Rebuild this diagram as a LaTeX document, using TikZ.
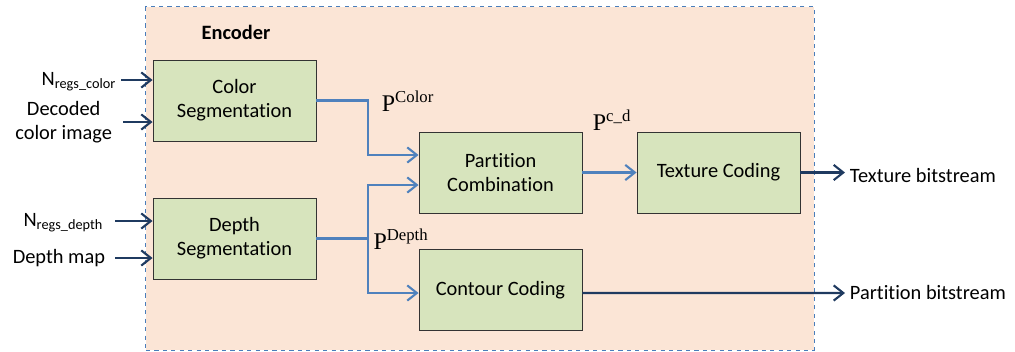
\documentclass[tikz,border=0pt]{standalone}
\usepackage{fontspec}
\setmainfont[Ligatures=NoCommon]{Carlito}
\newfontfamily\plabelfont{Liberation Serif}
\usetikzlibrary{arrows.meta}

\definecolor{encfill}{HTML}{FBE5D6}
\definecolor{encline}{HTML}{4A7EBB}
\definecolor{boxfill}{HTML}{D7E4BD}
\definecolor{flowblue}{HTML}{4F81BD}
\definecolor{flowdark}{HTML}{1F3A60}

\tikzset{
  block/.style={draw=black!80, line width=0.6pt, fill=boxfill, align=center,
    minimum width=4.075cm, minimum height=2.025cm, inner sep=0pt},
  flow/.style={draw=flowblue, line width=1.5pt, -{Straight Barb[length=2.4mm,width=3.8mm]}},
  outflow/.style={draw=flowdark, line width=1.5pt, -{Straight Barb[length=2.4mm,width=3.8mm]}},
  plabel/.style={font=\fontsize{17}{19}\selectfont\plabelfont},
  txt/.style={font=\fontsize{14.5}{17}\selectfont}
}

\begin{document}
\begin{tikzpicture}[x=0.025cm, y=-0.025cm, txt]
  \useasboundingbox (0,0) rectangle (1015,351);
  % Encoder frame
  \node[draw=encline, dashed, line width=0.7pt, fill=encfill, inner sep=0pt,
    minimum width=16.7cm, minimum height=8.575cm] (encoder) at (480,178.5) {};
  \node[font=\fontsize{14.5}{17}\selectfont\bfseries] (enclabel) at (236,32) {Encoder};

  % Processing blocks
  \node[block] (colorseg) at (234.5,100.5) {Color\\Segmentation};
  \node[block] (depthseg) at (234.5,238.5) {Depth\\Segmentation};
  \node[block] (partcomb) at (500.5,172.5) {Partition\\Combination};
  \node[block] (texcod) at (718.5,172.5) {Texture Coding};
  \node[block] (contcod) at (500.5,290) {Contour Coding};

  % Inputs
  \node[anchor=east] (ncolor) at (121,82) {N\textsubscript{regs\_color}};
  \node[anchor=east, align=center] (decimg) at (117,122) {Decoded\\color image};
  \node[anchor=east] (ndepth) at (108,223) {N\textsubscript{regs\_depth}};
  \node[anchor=east] (dmap) at (110,258) {Depth map};
  \draw[outflow] (ncolor.east |- 0,80) -- (colorseg.west |- 0,80);
  \draw[outflow] (123,122) -- (colorseg.west |- 0,122);
  \draw[outflow] (115,221) -- (depthseg.west |- 0,221);
  \draw[outflow] (115,258) -- (depthseg.west |- 0,258);

  % Partitions
  \coordinate (cjoint) at (368,100.5);
  \coordinate (djoint) at (368,238.5);
  \draw[flow] (colorseg.east) -- (cjoint) |- ([yshift=0.4375cm]partcomb.west);
  \draw[flow] (depthseg.east) -- (djoint) |- ([yshift=-0.3125cm]partcomb.west);
  \draw[flow] (djoint) |- ([yshift=-0.075cm]contcod.west);
  \draw[flow] (partcomb.east) -- (texcod.west);
  \node[plabel] (pcolor) at (408,101) {P\textsuperscript{Color}};
  \node[plabel] (pcd) at (612,120) {P\textsuperscript{c\_d}};
  \node[plabel] (pdepth) at (401,239) {P\textsuperscript{Depth}};

  % Outputs
  \node[anchor=west] (texbits) at (845,175) {Texture bitstream};
  \node[anchor=west] (partbits) at (845,292) {Partition bitstream};
  \draw[outflow] (texcod.east) -- (texbits.west |- texcod.east);
  \draw[outflow] ([yshift=-0.075cm]contcod.east) -- (partbits.west |- 0,293);
\end{tikzpicture}
\end{document}
